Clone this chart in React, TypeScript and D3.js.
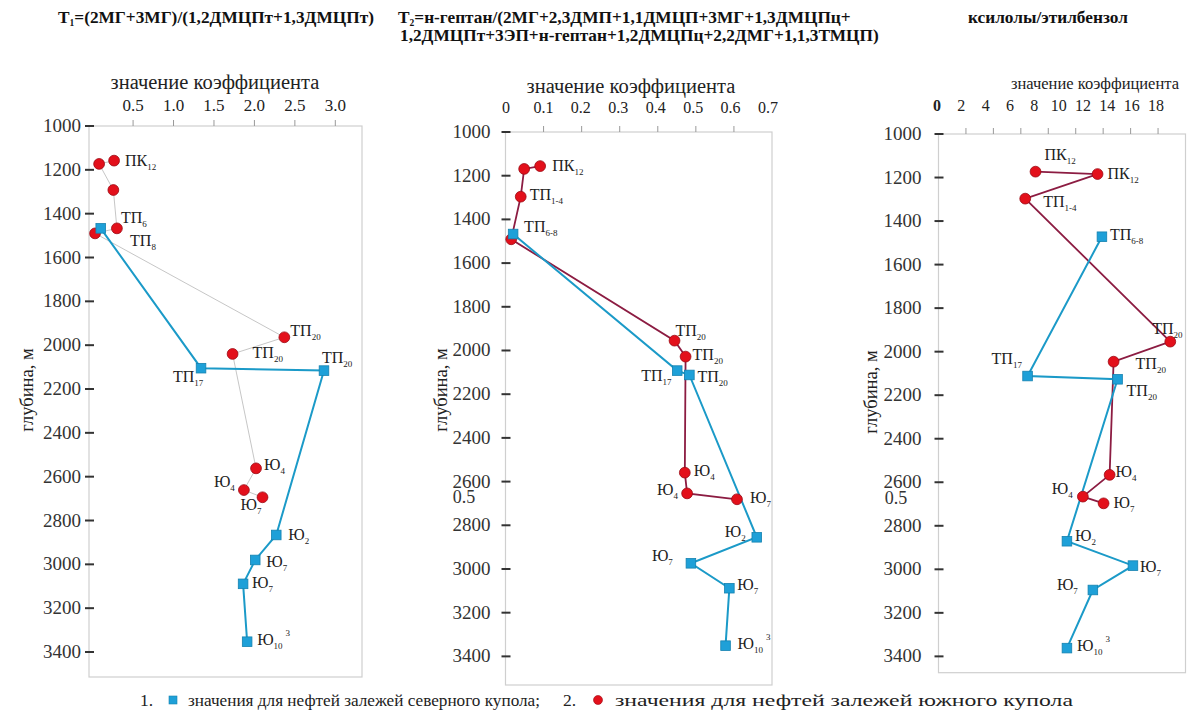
import React from "react";
import * as d3 from "d3";

// ---------- DATA ----------
const depthTicks = [1000, 1200, 1400, 1600, 1800, 2000, 2200, 2400, 2600, 2800, 3000, 3200, 3400];

// Panel 1: T1
const t1TickValues = [0.5, 1.0, 1.5, 2.0, 2.5, 3.0];
const t1TickLabels = ["0.5", "1.0", "1.5", "2.0", "2.5", "3.0"];
const t1NorthDepth = [1467, 2105, 2116, 2866, 2980, 3089, 3353];
const t1NorthValue = [0.1, 1.34, 2.86, 2.27, 2.01, 1.86, 1.91];
const t1NorthLabels = ["", "ТП_17", "ТП_20", "Ю_2", "Ю_7", "Ю_7", "Ю_10^3"];
const t1SouthDepth = [1158, 1173, 1292, 1467, 1490, 1964, 2040, 2562, 2661, 2694];
const t1SouthValue = [0.265, 0.08, 0.256, 0.3, 0.03, 2.37, 1.73, 2.02, 1.87, 2.1];
const t1SouthLabels = ["ПК_12", "", "", "ТП_6", "ТП_8", "ТП_20", "ТП_20", "Ю_4", "Ю_4", "Ю_7"];

// Panel 2: T2
const t2TickValues = [0, 0.1, 0.2, 0.3, 0.4, 0.5, 0.6, 0.7];
const t2TickLabels = ["0", "0.1", "0.2", "0.3", "0.4", "0.5", "0.6", "0.7"];
const t2NorthDepth = [1467, 2092, 2112, 2855, 2974, 3088, 3351];
const t2NorthValue = [0.02, 0.451, 0.483, 0.66, 0.487, 0.588, 0.578];
const t2NorthLabels = ["ТП_6-8", "ТП_17", "ТП_20", "Ю_2", "Ю_7", "Ю_7", "Ю_10^3"];
const t2SouthDepth = [1156, 1169, 1296, 1491, 1955, 2028, 2559, 2654, 2681];
const t2SouthValue = [0.091, 0.049, 0.04, 0.015, 0.444, 0.473, 0.471, 0.477, 0.608];
const t2SouthLabels = ["ПК_12", "", "ТП_1-4", "", "ТП_20", "ТП_20", "Ю_4", "Ю_4", "Ю_7"];

// Panel 3: xylenes / ethylbenzene
const t3TickValues = [0, 2, 4, 6, 8, 10, 12, 14, 16, 18];
const t3TickLabels = ["0", "2", "4", "6", "8", "10", "12", "14", "16", "18"];
const t3NorthDepth = [1472, 2112, 2127, 2871, 2983, 3095, 3362];
const t3NorthValue = [11.91, 6.49, 13.05, 9.36, 14.17, 11.25, 9.36];
const t3NorthLabels = ["ТП_6-8", "ТП_17", "ТП_20", "Ю_2", "Ю_7", "Ю_7", "Ю_10^3"];
const t3SouthDepth = [1173, 1184, 1297, 1954, 2046, 2566, 2666, 2697];
const t3SouthValue = [7.07, 11.59, 6.32, 16.89, 12.76, 12.47, 10.52, 12.03];
const t3SouthLabels = ["ПК_12", "ПК_12", "ТП_1-4", "ТП_20", "ТП_20", "Ю_4", "Ю_4", "Ю_7"];

const titles = {
  t1: "Т|1|=(2МГ+3МГ)/(1,2ДМЦПт+1,3ДМЦПт)",
  t2a: "Т|2|=н-гептан/(2МГ+2,3ДМП+1,1ДМЦП+3МГ+1,3ДМЦПц+",
  t2b: "1,2ДМЦПт+3ЭП+н-гептан+1,2ДМЦПц+2,2ДМГ+1,1,3ТМЦП)",
  t3: "ксилолы/этилбензол",
};
const xTitle = "значение коэффициента";
const yTitle = "глубина, м";
const legend1 = "значения для нефтей залежей северного купола;";
const legend2 = "значения для нефтей залежей южного купола";

// ---------- LAYOUT (label offsets: [dx, dy] from the marker) ----------
const t1NorthOff = [[0, 0], [-28, 9], [-2, -13], [12, 0], [11, 2], [9, -1], [10, -2]];
const t1SouthOff = [[11, 0], [0, 0], [0, 0], [4, -10], [35, 8], [6, -6], [20, -1], [8, -3], [-30, -8], [-22, 8]];
const t2NorthOff = [[11, -7], [-36, 5], [8, 2], [-32, -5], [-39, -7], [8, -3], [12, -2]];
const t2SouthOff = [[12, 0], [0, 0], [9, -2], [0, 0], [1, -10], [7, -2], [9, -2], [-30, -3], [13, -1]];
const t3NorthOff = [[8, -2], [-36, -17], [9, 12], [8, -5], [7, 1], [-36, -5], [10, -2]];
const t3SouthOff = [[9, -17], [10, 0], [18, 3], [-18, -13], [22, 2], [6, -3], [-31, -8], [10, 0]];

const FONT = "'Times New Roman', 'Liberation Serif', serif";
const BLUE_LINE = "#1b9ac8";
const BLUE_FILL = "#1ea0d8";
const BLUE_EDGE = "#1582b0";
const RED_FILL = "#e3101b";
const RED_EDGE = "#9a0a14";
const MAROON = "#8c1c42";

type Panel = {
  frame: { x0: number; x1: number; y0: number; y1: number };
  xDomain: [number, number];
  yDomain: [number, number];
  tickValues: number[];
  tickMarks: number[];
  tickLabels: string[];
  labelRange: [number, number] | null;
  tickFont: number;
  tickLabelY: number;
  boldZero?: boolean;
  yLabelGap: number;
  xTitlePos: [number, number];
  xTitleFont: number;
  yTitlePos: [number, number];
  north: { d: number[]; v: number[]; l: string[]; off: number[][] };
  south: { d: number[]; v: number[]; l: string[]; off: number[][] };
  southLine: string;
  southLineWidth: number;
  stray?: [number, number];
};

const panels: Panel[] = [
  {
    frame: { x0: 89, x1: 362, y0: 126, y1: 677 },
    xDomain: [-0.045, 3.33],
    yDomain: [1000, 3514],
    tickValues: t1TickValues,
    tickMarks: t1TickValues,
    tickLabels: t1TickLabels,
    labelRange: null,
    tickFont: 17,
    tickLabelY: 106,
    yLabelGap: 8,
    xTitlePos: [215, 83],
    xTitleFont: 20.5,
    yTitlePos: [27, 390],
    north: { d: t1NorthDepth, v: t1NorthValue, l: t1NorthLabels, off: t1NorthOff },
    south: { d: t1SouthDepth, v: t1SouthValue, l: t1SouthLabels, off: t1SouthOff },
    southLine: "#b8b8b8",
    southLineWidth: 0.8,
  },
  {
    frame: { x0: 505.5, x1: 772, y0: 132, y1: 685 },
    xDomain: [0, 0.7],
    yDomain: [1000, 3531],
    tickValues: t2TickValues,
    tickMarks: [0.1, 0.2, 0.3, 0.4, 0.5, 0.6],
    tickLabels: t2TickLabels,
    labelRange: [506, 768],
    tickFont: 16,
    tickLabelY: 108,
    yLabelGap: 15,
    xTitlePos: [631, 87],
    xTitleFont: 20.5,
    yTitlePos: [441, 390],
    north: { d: t2NorthDepth, v: t2NorthValue, l: t2NorthLabels, off: t2NorthOff },
    south: { d: t2SouthDepth, v: t2SouthValue, l: t2SouthLabels, off: t2SouthOff },
    southLine: MAROON,
    southLineWidth: 1.8,
    stray: [464, 497],
  },
  {
    frame: { x0: 938.5, x1: 1185.5, y0: 134, y1: 672.7 },
    xDomain: [0, 18],
    yDomain: [1000, 3475],
    tickValues: t3TickValues,
    tickMarks: [2, 4, 6, 8, 10, 12, 14, 16],
    tickLabels: t3TickLabels,
    labelRange: [937, 1156],
    tickFont: 16,
    tickLabelY: 106,
    boldZero: true,
    yLabelGap: 17,
    xTitlePos: [1095, 83],
    xTitleFont: 16.5,
    yTitlePos: [871, 392],
    north: { d: t3NorthDepth, v: t3NorthValue, l: t3NorthLabels, off: t3NorthOff },
    south: { d: t3SouthDepth, v: t3SouthValue, l: t3SouthLabels, off: t3SouthOff },
    southLine: MAROON,
    southLineWidth: 1.8,
    stray: [896, 498],
  },
];

function Label({ x, y, text }: { x: number; y: number; text: string }) {
  if (!text) return null;
  const [base, rest] = text.split("_");
  let sub = rest || "";
  let sup = "";
  if (sub.includes("^")) {
    [sub, sup] = sub.split("^");
  }
  return (
    <text x={x} y={y + 5} fontFamily={FONT} fontSize={16} fill="#222">
      {base}
      {sub && (
        <tspan fontSize={9} dy={4}>
          {sub}
        </tspan>
      )}
      {sup && (
        <tspan fontSize={9} dy={-13} dx={3}>
          {sup}
        </tspan>
      )}
    </text>
  );
}

function TitleText({ x, y, text, size }: { x: number; y: number; text: string; size: number }) {
  const parts = text.split("|");
  return (
    <text x={x} y={y} fontFamily={FONT} fontSize={size} fontWeight="bold" fill="#111">
      {parts.length === 3 ? (
        <>
          {parts[0]}
          <tspan fontSize={size * 0.55} dy={3}>
            {parts[1]}
          </tspan>
          <tspan dy={-3}>{parts[2]}</tspan>
        </>
      ) : (
        text
      )}
    </text>
  );
}

function PanelView({ p }: { p: Panel }) {
  const { frame } = p;
  const x = d3.scaleLinear().domain(p.xDomain).range([frame.x0, frame.x1]);
  const y = d3.scaleLinear().domain(p.yDomain).range([frame.y0, frame.y1]);
  const xl = p.labelRange
    ? d3.scaleLinear().domain([p.tickValues[0], p.tickValues[p.tickValues.length - 1]]).range(p.labelRange)
    : x;
  const line = d3
    .line<[number, number]>()
    .x((d) => x(d[0]))
    .y((d) => y(d[1]));
  const northPts: [number, number][] = p.north.v.map((v, i) => [v, p.north.d[i]]);
  const southPts: [number, number][] = p.south.v.map((v, i) => [v, p.south.d[i]]);

  return (
    <g>
      <rect
        x={frame.x0}
        y={frame.y0}
        width={frame.x1 - frame.x0}
        height={frame.y1 - frame.y0}
        fill="none"
        stroke="#cfcfcf"
        strokeWidth={1.2}
      />
      {p.tickMarks.map((t) => (
        <line key={t} x1={x(t)} x2={x(t)} y1={frame.y0 - 6} y2={frame.y0} stroke="#999" strokeWidth={1} />
      ))}
      {p.tickValues.map((t, i) => (
        <text
          key={t}
          x={xl(t)}
          y={p.tickLabelY + 5}
          textAnchor="middle"
          fontFamily={FONT}
          fontSize={p.tickFont}
          fontWeight={p.boldZero && t === 0 ? "bold" : "normal"}
          fill="#222"
        >
          {p.tickLabels[i]}
        </text>
      ))}
      <text
        x={p.xTitlePos[0]}
        y={p.xTitlePos[1] + 6}
        textAnchor="middle"
        fontFamily={FONT}
        fontSize={p.xTitleFont}
        fill="#222"
      >
        {xTitle}
      </text>
      {depthTicks.map((d) => (
        <g key={d}>
          <line x1={frame.x0 - 4} x2={frame.x0 + 5} y1={y(d)} y2={y(d)} stroke="#333" strokeWidth={2} />
          <text
            x={frame.x0 - p.yLabelGap}
            y={y(d) + 6}
            textAnchor="end"
            fontFamily={FONT}
            fontSize={19}
            fill="#333"
          >
            {d}
          </text>
        </g>
      ))}
      <text
        transform={`translate(${p.yTitlePos[0]},${p.yTitlePos[1]}) rotate(-90)`}
        textAnchor="middle"
        dominantBaseline="central"
        fontFamily={FONT}
        fontSize={18.5}
        fill="#222"
      >
        {yTitle}
      </text>
      {p.stray && (
        <text x={p.stray[0]} y={p.stray[1] + 6} textAnchor="middle" fontFamily={FONT} fontSize={18} fill="#333">
          0.5
        </text>
      )}
      <path d={line(southPts) || ""} fill="none" stroke={p.southLine} strokeWidth={p.southLineWidth} />
      <path d={line(northPts) || ""} fill="none" stroke={BLUE_LINE} strokeWidth={2} />
      {southPts.map((pt, i) => (
        <circle key={"s" + i} cx={x(pt[0])} cy={y(pt[1])} r={5.4} fill={RED_FILL} stroke={RED_EDGE} strokeWidth={0.8} />
      ))}
      {northPts.map((pt, i) => (
        <rect
          key={"n" + i}
          x={x(pt[0]) - 4.8}
          y={y(pt[1]) - 4.8}
          width={9.6}
          height={9.6}
          fill={BLUE_FILL}
          stroke={BLUE_EDGE}
          strokeWidth={0.8}
        />
      ))}
      {southPts.map((pt, i) => (
        <Label
          key={"ls" + i}
          x={x(pt[0]) + p.south.off[i][0]}
          y={y(pt[1]) + p.south.off[i][1]}
          text={p.south.l[i]}
        />
      ))}
      {northPts.map((pt, i) => (
        <Label
          key={"ln" + i}
          x={x(pt[0]) + p.north.off[i][0]}
          y={y(pt[1]) + p.north.off[i][1]}
          text={p.north.l[i]}
        />
      ))}
    </g>
  );
}

export default function App() {
  return (
    <svg
      width={1199}
      height={724}
      style={{ position: "absolute", left: 0, top: 0, background: "#fff" }}
    >
      <rect width={1199} height={724} fill="#fff" />
      <TitleText x={58} y={23} text={titles.t1} size={17.3} />
      <TitleText x={398} y={23} text={titles.t2a} size={17.3} />
      <TitleText x={400} y={41} text={titles.t2b} size={17.3} />
      <TitleText x={968} y={23} text={titles.t3} size={17.3} />
      {panels.map((p, i) => (
        <PanelView key={i} p={p} />
      ))}
      <g fontFamily={FONT} fontSize={17.5} fill="#222">
        <text x={140} y={706}>1.</text>
        <rect x={169} y={696} width={8} height={8} fill={BLUE_FILL} stroke={BLUE_EDGE} strokeWidth={0.6} />
        <text x={188} y={706} textLength={352} lengthAdjust="spacingAndGlyphs">{legend1}</text>
        <text x={563} y={706}>2.</text>
        <circle cx={598} cy={700} r={4.5} fill={RED_FILL} stroke={RED_EDGE} strokeWidth={0.6} />
        <text x={615} y={706} textLength={458} lengthAdjust="spacingAndGlyphs">{legend2}</text>
      </g>
    </svg>
  );
}
